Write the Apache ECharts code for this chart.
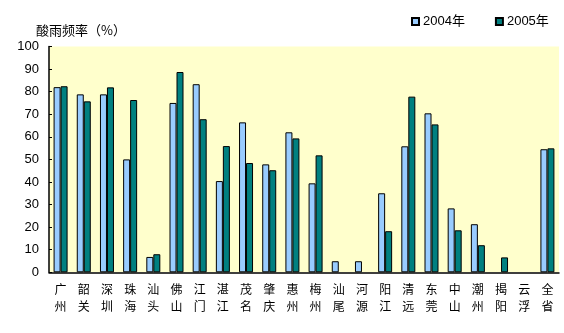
<!DOCTYPE html>
<html>
<head>
<meta charset="utf-8">
<script src="https://cdn.jsdelivr.net/npm/echarts@6/dist/echarts.min.js"></script>
<style>
  html, body { margin: 0; padding: 0; background: #ffffff; }
  #chart { width: 564px; height: 333px; }
</style>
</head>
<body>
<div id="chart"></div>
<script>
// Acid rain frequency by city, 2004 vs 2005
const cities = ['广州', '韶关', '深圳', '珠海', '汕头', '佛山', '江门', '湛江', '茂名', '肇庆', '惠州',
                '梅州', '汕尾', '河源', '阳江', '清远', '东莞', '中山', '潮州', '揭阳', '云浮', '全省'];
const rate2004 = [82.0, 78.8, 78.8, 50.0, 6.8, 75.0, 83.3, 40.4, 66.4, 47.8, 62.0,
                  39.4, 4.9, 4.9, 35.0, 55.8, 70.4, 28.3, 21.3, null, null, 54.5];
const rate2005 = [82.4, 75.7, 81.9, 76.3, 8.0, 88.7, 67.8, 55.9, 48.4, 45.2, 59.3,
                  51.8, null, null, 18.2, 77.8, 65.5, 18.6, 12.0, 6.6, null, 54.9];
const seriesNames = ['2004年', '2005年'];
const yTitle = '酸雨频率（%）';

const cjk = '"Noto Sans CJK SC", sans-serif';
const latin = '"Liberation Sans", "Noto Sans CJK SC", sans-serif';

const chart = echarts.init(document.getElementById('chart'), null, { renderer: 'canvas' });
chart.setOption({
  animation: false,
  backgroundColor: '#ffffff',
  grid: { left: 49, right: 5, top: 46.5, bottom: 60.7, show: true, backgroundColor: '#FFFFCC', borderWidth: 0 },
  legend: {
    left: 406, top: 10,
    itemWidth: 7, itemHeight: 7, itemGap: 30,
    icon: 'rect',
    textStyle: { fontFamily: latin, fontSize: 13, color: '#000', padding: [0, 0, 0, -1] },
    data: seriesNames
  },
  graphic: [{
    type: 'text', left: 36, top: 24,
    style: { text: yTitle, font: '13px ' + cjk, fill: '#000' }
  }],
  xAxis: {
    type: 'category',
    data: cities,
    axisLine: { lineStyle: { color: '#000', width: 1.5 } },
    axisTick: { inside: true, length: 3, lineStyle: { color: '#000' } },
    axisLabel: {
      interval: 0, margin: 9, color: '#000', fontFamily: cjk, fontSize: 12, lineHeight: 17,
      formatter: v => v.split('').join('\n')
    },
    splitLine: { show: false }
  },
  yAxis: {
    type: 'value', min: 0, max: 100, interval: 10,
    axisLine: { show: true, lineStyle: { color: '#000', width: 1.5 } },
    axisTick: { show: true, inside: true, length: 3, lineStyle: { color: '#000' } },
    axisLabel: { color: '#000', fontFamily: latin, fontSize: 13, margin: 10 },
    splitLine: { show: false }
  },
  series: [
    {
      name: seriesNames[0], type: 'bar', data: rate2004,
      barWidth: 7, barGap: '0%',
      itemStyle: { color: '#99CCFF', borderColor: '#000', borderWidth: 1 }
    },
    {
      name: seriesNames[1], type: 'bar', data: rate2005,
      barWidth: 7,
      itemStyle: { color: '#008080', borderColor: '#000', borderWidth: 1 }
    }
  ]
});
</script>
</body>
</html>
